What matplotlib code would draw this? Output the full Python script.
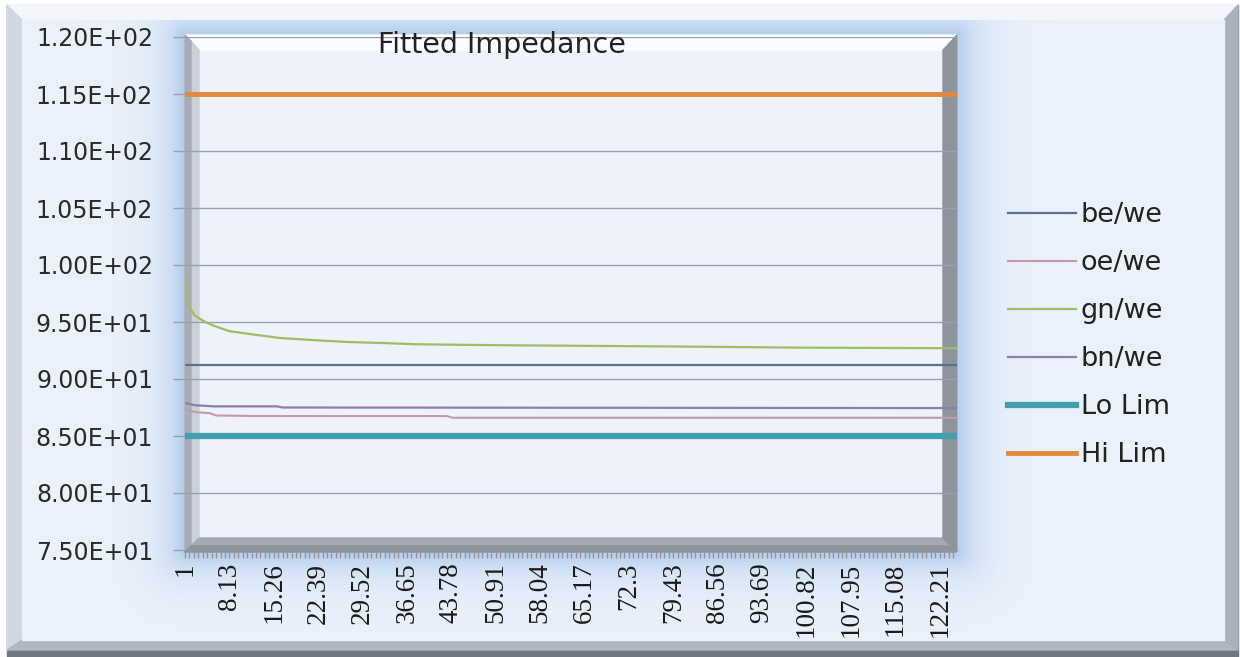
import numpy as np
import matplotlib
matplotlib.use("Agg")
import matplotlib.pyplot as plt
from matplotlib.patches import Polygon, Rectangle

# Data
x_labels = ['1', '8.13', '15.26', '22.39', '29.52', '36.65', '43.78', '50.91', '58.04',
            '65.17', '72.3', '79.43', '86.56', '93.69', '100.82', '107.95', '115.08', '122.21']

be_x = [1, 125]
be_y = [91.25, 91.25]

oe_x = [1, 2.6, 5.0, 6.0, 13, 43, 44, 125]
oe_y = [87.35, 87.1, 87.0, 86.8, 86.75, 86.75, 86.6, 86.6]

gn_x = [1, 1.7, 2.5, 3.9, 5.5, 8.1, 12, 16.2, 22, 27, 33, 38, 45, 55, 67.7, 80, 100, 125]
gn_y = [99.0, 96.3, 95.6, 95.1, 94.7, 94.2, 93.9, 93.6, 93.4, 93.25, 93.15, 93.05, 93.0,
        92.95, 92.9, 92.85, 92.75, 92.7]

bn_x = [1, 2.6, 5.5, 15.8, 16.7, 125]
bn_y = [87.9, 87.7, 87.6, 87.6, 87.5, 87.45]

lo_x = [1, 125]
lo_y = [85, 85]
hi_x = [1, 125]
hi_y = [115, 115]

W, H = 1240, 657
fig = plt.figure(figsize=(W / 100, H / 100), dpi=100)

# background / frame drawn in pixel coordinates
bg = fig.add_axes([0, 0, 1, 1], zorder=0)
bg.set_xlim(0, W)
bg.set_ylim(H, 0)
bg.axis('off')

bg.add_patch(Rectangle((0, 0), W, H, color='white', zorder=0))
bg.add_patch(Rectangle((7, 5), 1231, 652, color='#6f7780', zorder=1))
bg.add_patch(Polygon([(7, 5), (1238, 5), (1224, 20), (22, 20)], color='#f3f7fc', zorder=2))
bg.add_patch(Polygon([(7, 5), (22, 20), (22, 640), (7, 650)], color='#cfd7e1', zorder=2))
bg.add_patch(Polygon([(7, 650), (1238, 650), (1224, 640), (22, 640)], color='#b0b7c0', zorder=2))
bg.add_patch(Polygon([(1238, 5), (1238, 650), (1224, 640), (1224, 20)], color='#aab1ba', zorder=2))
bg.add_patch(Rectangle((22, 20), 1202, 620, color='#eaf1fb', zorder=3))

# soft blue glow around the plot area
px0, px1, py0, py1 = 185, 957, 35, 552
yy, xx = np.mgrid[0:H, 0:W] + 0.5
dx = np.maximum(np.maximum(px0 - xx, xx - px1), 0)
dy = np.maximum(np.maximum(py0 - yy, yy - py1), 0)
d = np.hypot(dx, dy)
alpha = 0.75 * np.exp(-d / 20.0)
alpha[(xx < 22) | (xx > 1224) | (yy < 20) | (yy > 640)] = 0
glow = np.zeros((H, W, 4))
glow[..., 0] = 0x9c / 255
glow[..., 1] = 0xbd / 255
glow[..., 2] = 0xe6 / 255
glow[..., 3] = alpha
bg.imshow(glow, extent=(0, W, H, 0), interpolation='nearest', zorder=4, aspect='auto')

# plot area with bevel
bg.add_patch(Rectangle((px0, py0), px1 - px0, py1 - py0, color='#edf2fb', zorder=5))
bg.add_patch(Polygon([(px0, py0), (px1, py0), (943, 50), (199, 50)], color='#fafcff', zorder=6))
bg.add_patch(Polygon([(px0, py0), (199, 50), (199, 538), (px0, py1)], color='#cbd1da', zorder=6))
bg.add_patch(Polygon([(px0, py0), (191, 41), (191, 546), (px0, py1)], color='#a6adb7', zorder=6))
bg.add_patch(Polygon([(px0, py1), (px1, py1), (943, 538), (199, 538)], color='#a3aab3', zorder=6))
bg.add_patch(Polygon([(px0, py1), (px1, py1), (949, 546), (191, 546)], color='#8c939c', zorder=6))
bg.add_patch(Polygon([(px1, py0), (px1, py1), (943, 538), (943, 50)], color='#8d949d', zorder=6))

# chart axes
ax = fig.add_axes([185 / W, (H - 550) / H, 772 / W, 513 / H], zorder=1)
ax.patch.set_alpha(0)

ax.plot(be_x, be_y, color='#5b7190', lw=1.6, label='be/we')
ax.plot(oe_x, oe_y, color='#c59aa8', lw=1.5, label='oe/we')
ax.plot(gn_x, gn_y, color='#9fbd63', lw=1.6, label='gn/we')
ax.plot(bn_x, bn_y, color='#8a80a8', lw=1.6, label='bn/we')
ax.plot(lo_x, lo_y, color='#42a0ae', lw=4.5, label='Lo Lim')
ax.plot(hi_x, hi_y, color='#e3883f', lw=3.5, label='Hi Lim')

ax.set_xlim(1, 125)
ax.set_ylim(75, 120)
yt = np.arange(75, 121, 5)
ax.set_yticks(yt, [f"{v:.2E}" for v in yt])
ax.yaxis.grid(True, color='#9aa1ac', lw=1)
ax.set_axisbelow(True)

ax.set_xticks([float(v) for v in x_labels], x_labels)
ax.set_xticks(np.arange(1, 125.01, 0.713), minor=True)
ax.tick_params(axis='x', which='both', direction='out', length=6, width=1, color='#8f969f')
ax.tick_params(axis='x', which='major', pad=3, labelsize=19.5, labelrotation=90,
               labelfontfamily='Liberation Serif', labelcolor='#1a1a1a')
ax.tick_params(axis='y', direction='out', length=9, width=1, color='#9aa1ac', pad=14,
               labelsize=17, labelfontfamily='DejaVu Sans', labelcolor='#2a2a2a')

for s in ['left', 'right', 'top']:
    ax.spines[s].set_visible(False)
ax.spines['bottom'].set_color('#8f969f')

fig.text(502 / W, 1 - 45 / H, 'Fitted Impedance', ha='center', va='center',
         fontsize=20.5, family='DejaVu Sans', color='#222222')

fig.legend(loc='upper left', bbox_to_anchor=(984 / W, 1 - 178 / H), frameon=False,
           prop={'family': 'DejaVu Sans', 'size': 19.5}, handlelength=2.48,
           handletextpad=0.2, labelspacing=0.81, labelcolor='#222222')

fig.savefig('out.png', dpi=100)
plt.close()
